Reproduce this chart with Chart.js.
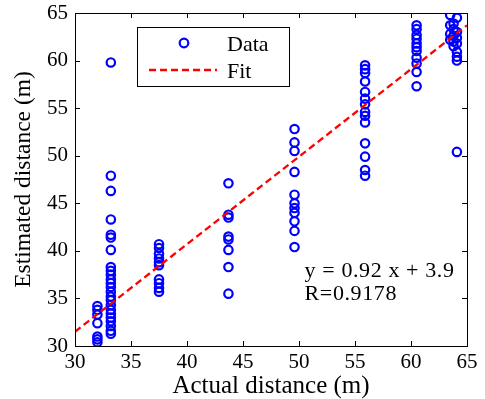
<!DOCTYPE html>
<html>
<head>
<meta charset="utf-8">
<script src="https://cdn.jsdelivr.net/npm/chart.js@4/dist/chart.umd.min.js"></script>
<style>
  html, body { margin: 0; padding: 0; background: #fff; }
  #wrap { width: 485px; height: 399px; }
</style>
</head>
<body>
<div id="wrap"><canvas id="chart" width="485" height="399"></canvas></div>
<script>
// actual distance of each measurement column (m)
var colX = [32.0, 33.2, 37.5, 43.7, 49.6, 55.9, 60.5, 63.5, 63.8, 64.1];
// estimated distances measured in each column (m)
var colY = [
  [34.2, 33.8, 33.3, 32.4, 31.0, 30.7, 30.4],
  [59.8, 47.9, 46.3, 43.3, 41.7, 41.4, 40.1, 38.3, 37.9, 37.5, 37.0, 36.6, 36.2, 35.7, 35.2, 34.8, 34.3, 33.8, 33.4, 33.0, 32.6, 32.1, 31.6, 31.3],
  [40.7, 40.3, 39.7, 39.2, 38.8, 38.5, 37.0, 36.6, 36.1, 35.7],
  [47.1, 43.8, 43.5, 41.5, 41.2, 40.1, 38.3, 35.5],
  [52.8, 51.4, 50.5, 48.3, 45.9, 45.0, 44.5, 44.0, 43.1, 42.1, 40.4],
  [59.5, 59.1, 58.7, 57.8, 56.7, 56.0, 55.4, 54.6, 54.2, 53.5, 51.3, 49.9, 48.5, 47.9],
  [63.7, 63.3, 62.7, 62.3, 61.8, 61.4, 61.0, 60.3, 59.7, 58.8, 57.3],
  [64.8, 63.7, 62.8, 62.2],
  [63.9, 63.3, 62.6, 62.0, 61.5],
  [64.5, 63.0, 62.4, 61.8, 60.9, 60.4, 60.0, 50.4]
];
// fitted line end points
var fitX = [30, 65];
var fitY = [31.5, 63.7];
var xTicks = [30, 35, 40, 45, 50, 55, 60, 65];
var yTicks = [30, 35, 40, 45, 50, 55, 60, 65];
var fitText = ["y = 0.92 x + 3.9", "R=0.9178"];

var serif = "'Liberation Serif', 'Times New Roman', serif";

var dataPoints = [];
colX.forEach(function(x, i) {
  colY[i].forEach(function(y) { dataPoints.push({x: x, y: y}); });
});
var fitPoints = fitX.map(function(x, i) { return {x: x, y: fitY[i]}; });

// frame, inward ticks, legend box and fit annotation
var matlabAxes = {
  id: 'matlabAxes',
  afterDatasetsDraw: function(chart) {
    var ctx = chart.ctx;
    var a = chart.chartArea;
    var xs = chart.scales.x, ys = chart.scales.y;
    ctx.save();
    ctx.strokeStyle = '#000';
    ctx.lineWidth = 1;
    ctx.strokeRect(a.left + 0.5, a.top + 0.5, a.right - a.left, a.bottom - a.top);
    var t = 5;
    ctx.beginPath();
    xTicks.forEach(function(v) {
      var px = Math.round(xs.getPixelForValue(v)) + 0.5;
      ctx.moveTo(px, a.bottom); ctx.lineTo(px, a.bottom - t);
      ctx.moveTo(px, a.top); ctx.lineTo(px, a.top + t);
    });
    yTicks.forEach(function(v) {
      var py = Math.round(ys.getPixelForValue(v)) + 0.5;
      ctx.moveTo(a.left, py); ctx.lineTo(a.left + t, py);
      ctx.moveTo(a.right, py); ctx.lineTo(a.right - t, py);
    });
    ctx.stroke();

    // legend
    var lx = 137, ly = 27, lw = 152, lh = 59;
    ctx.fillStyle = '#fff';
    ctx.fillRect(lx, ly, lw, lh);
    ctx.strokeRect(lx + 0.5, ly + 0.5, lw, lh);
    var ds = chart.data.datasets;
    ctx.font = '22px ' + serif;
    ctx.fillStyle = '#000';
    ctx.textBaseline = 'middle';
    ctx.textAlign = 'left';
    ctx.strokeStyle = ds[1].borderColor;
    ctx.lineWidth = 2.2;
    ctx.beginPath();
    ctx.arc(184, 43, 4.3, 0, Math.PI * 2);
    ctx.stroke();
    ctx.fillText(ds[1].label, 227, 45);
    ctx.strokeStyle = ds[0].borderColor;
    ctx.lineWidth = 2.3;
    ctx.setLineDash([7, 4]);
    ctx.beginPath();
    ctx.moveTo(149, 70); ctx.lineTo(217, 70);
    ctx.stroke();
    ctx.setLineDash([]);
    ctx.fillText(ds[0].label, 227, 72);

    // fit annotation
    ctx.font = '22px ' + serif;
    ctx.letterSpacing = '0.6px';
    ctx.textBaseline = 'alphabetic';
    var tx = xs.getPixelForValue(50.5);
    var ty = ys.getPixelForValue(37.2);
    ctx.fillText(fitText[0], tx, ty);
    ctx.fillText(fitText[1], tx, ty + 23);
    ctx.restore();
  }
};

var chart = new Chart(document.getElementById('chart').getContext('2d'), {
  type: 'scatter',
  data: {
    datasets: [{
      type: 'line',
      label: 'Fit',
      data: fitPoints,
      borderColor: '#ff0000',
      borderWidth: 2.3,
      borderDash: [7, 4],
      pointRadius: 0,
      fill: false,
      order: 0
    }, {
      label: 'Data',
      data: dataPoints,
      borderColor: '#0000ff',
      backgroundColor: 'rgba(0,0,0,0)',
      borderWidth: 2.2,
      pointRadius: 4.2,
      order: 1
    }]
  },
  options: {
    responsive: false,
    animation: false,
    layout: { padding: { top: 13, right: 18, left: 0, bottom: 0 } },
    plugins: { legend: { display: false }, tooltip: { enabled: false } },
    scales: {
      x: {
        type: 'linear',
        min: 30, max: 65,
        afterBuildTicks: function(s) { s.ticks = xTicks.map(function(v) { return {value: v}; }); },
        afterFit: function(s) { s.height = 53; s.paddingLeft = 0; s.paddingRight = 0; },
        grid: { display: false, drawTicks: false },
        border: { display: false },
        ticks: { font: { family: serif, size: 21 }, color: '#000', padding: 4, maxRotation: 0 },
        title: { display: true, text: 'Actual distance (m)', font: { family: serif, size: 25, lineHeight: 1 }, color: '#000', padding: 0 }
      },
      y: {
        type: 'linear',
        min: 30, max: 65,
        afterBuildTicks: function(s) { s.ticks = yTicks.map(function(v) { return {value: v}; }); },
        afterFit: function(s) { s.width = 75; s.paddingTop = 0; s.paddingBottom = 0; },
        grid: { display: false, drawTicks: false },
        border: { display: false },
        ticks: { font: { family: serif, size: 21 }, color: '#000', padding: 7 },
        title: { display: true, text: 'Estimated distance (m)', font: { family: serif, size: 23.5, lineHeight: 1 }, color: '#000', padding: { top: 12, bottom: 0 } }
      }
    }
  },
  plugins: [matlabAxes]
});
</script>
</body>
</html>
